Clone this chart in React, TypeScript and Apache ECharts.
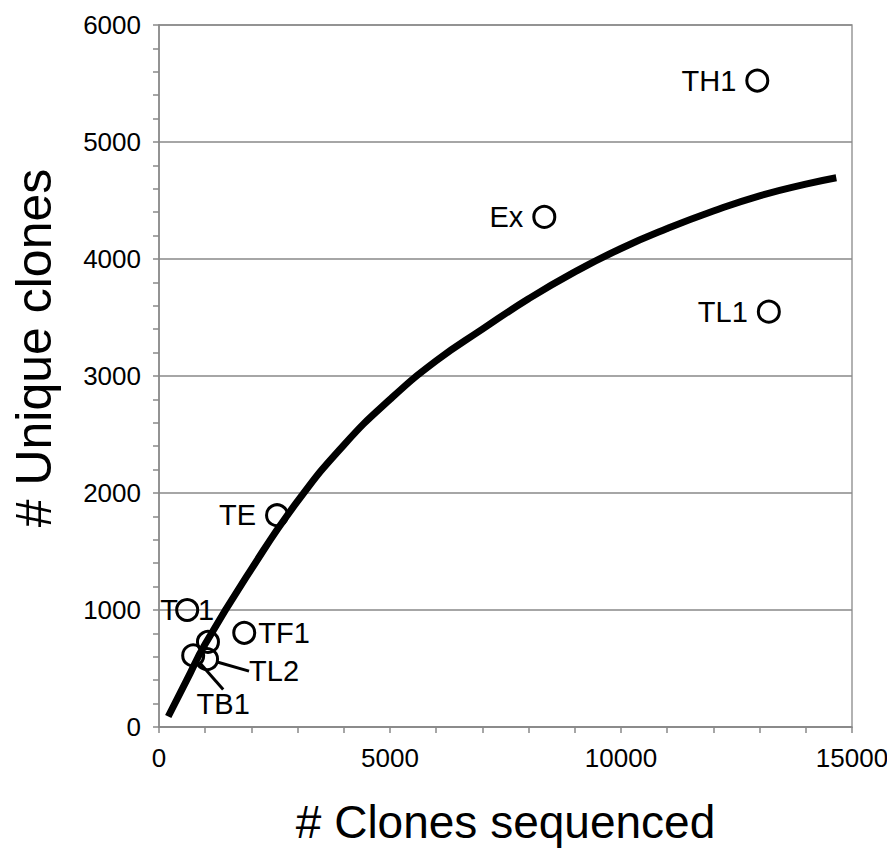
import React, { useEffect, useRef } from "react";
import * as echarts from "echarts";

const pointNames = ["TH1", "Ex", "TL1", "TE", "TF1", "TO1", "TL2", "TB1", ""];
const pointX = [12950, 8340, 13200, 2555, 1845, 610, 1040, 740, 1060];
const pointY = [5525, 4360, 3550, 1810, 805, 1000, 580, 612, 727];

const curveX = [200, 600, 1000, 2000, 3000, 4000, 5000, 6000, 7000, 8000, 9000, 10000, 11000, 12000, 13000, 14000, 14660];
const curveY = [90, 400, 710, 1350, 1930, 2410, 2800, 3130, 3400, 3660, 3890, 4090, 4260, 4410, 4540, 4640, 4695];

const xTicks = [0, 5000, 10000, 15000];
const yTicks = [0, 1000, 2000, 3000, 4000, 5000, 6000];

const FONT = "'Liberation Sans', Arial, sans-serif";

export default function App() {
  const ref = useRef<HTMLDivElement>(null);
  useEffect(() => {
    if (!ref.current) return;
    const chart = echarts.init(ref.current, undefined, { renderer: "svg" });
    const baseLabel = { show: true, fontSize: 29, fontFamily: FONT, color: "#000", formatter: "{b}" };
    const labelCfg: Record<string, any> = {
      TH1: { position: "left", distance: 9 },
      Ex: { position: "left", distance: 9 },
      TL1: { position: "left", distance: 9 },
      TE: { position: "left", distance: 9 },
      TF1: { position: "right", distance: 2 },
      TL2: { position: "right", distance: 4 },
      TB1: { position: "bottom", distance: 2 },
    };
    const shifts: Record<string, { dx: number; dy: number }> = {
      TL2: { dx: 26, dy: 12 },
      TB1: { dx: 30, dy: 20 },
    };
    const scatterData = pointNames.map((n, i) => {
      const item: any = { name: n, value: [pointX[i], pointY[i]] };
      if (n === "TO1") {
        item.label = {
          show: true,
          position: "inside",
          formatter: "{a|T}{b|}{a|1}",
          rich: {
            a: { fontSize: 29, fontFamily: FONT, color: "#000" },
            b: { width: 20 },
          },
        };
      } else if (n && labelCfg[n]) {
        item.label = { ...baseLabel, ...labelCfg[n] };
        if (shifts[n]) {
          item.labelLine = { show: true, lineStyle: { color: "#000", width: 3 } };
        }
      } else {
        item.label = { show: false };
      }
      return item;
    });

    chart.setOption({
      animation: false,
      backgroundColor: "#fff",
      grid: {
        left: 159,
        right: 35,
        top: 25,
        bottom: 134,
        outerBoundsMode: "none",
        containLabel: false,
        show: true,
        borderColor: "#999",
        borderWidth: 1.5,
      },
      xAxis: {
        type: "value",
        min: 0,
        max: 15000,
        interval: 5000,
        name: "# Clones sequenced",
        nameLocation: "middle",
        nameGap: 72,
        nameTextStyle: { fontSize: 46, fontFamily: FONT, color: "#000" },
        axisLine: { show: true, lineStyle: { color: "#888", width: 1.5 } },
        axisTick: { show: true, length: 6, lineStyle: { color: "#888", width: 1.5 } },
        minorTick: { show: true, splitNumber: 5, length: 6, lineStyle: { color: "#888", width: 1.5 } },
        splitLine: { show: false },
        axisLabel: {
          fontSize: 26,
          fontFamily: FONT,
          color: "#000",
          margin: 18,
          formatter: (v: number) => (xTicks.includes(v) ? String(v) : ""),
        },
      },
      yAxis: {
        type: "value",
        min: 0,
        max: 6000,
        interval: 1000,
        name: "# Unique clones",
        nameLocation: "middle",
        nameGap: 100,
        nameRotate: 90,
        nameTextStyle: { fontSize: 50, fontFamily: FONT, color: "#000", padding: [0, 0, 0, 56] },
        axisLine: { show: true, lineStyle: { color: "#888", width: 1.5 } },
        axisTick: { show: true, length: 6, lineStyle: { color: "#888", width: 1.5 } },
        minorTick: { show: true, splitNumber: 5, length: 6, lineStyle: { color: "#888", width: 1.5 } },
        splitLine: { show: true, lineStyle: { color: "#888", width: 1.5 } },
        axisLabel: {
          fontSize: 26,
          fontFamily: FONT,
          color: "#000",
          margin: 18,
          formatter: (v: number) => (yTicks.includes(v) ? String(v) : ""),
        },
      },
      series: [
        {
          type: "scatter",
          z: 2,
          symbol: "circle",
          symbolSize: 21,
          itemStyle: { color: "rgba(0,0,0,0)", borderColor: "#000", borderWidth: 3, opacity: 1 },
          label: baseLabel,
          labelLayout: (p: any) => {
            const s = shifts[pointNames[p.dataIndex]];
            return s ? { dx: s.dx, dy: s.dy } : {};
          },
          data: scatterData,
        },
        {
          type: "line",
          z: 3,
          smooth: true,
          symbol: "none",
          lineStyle: { color: "#000", width: 7 },
          data: curveX.map((x, i) => [x, curveY[i]]),
        },
      ],
    });
    return () => chart.dispose();
  }, []);
  return (
    <div
      ref={ref}
      style={{ position: "fixed", left: 0, top: 0, width: 887, height: 861, background: "#fff" }}
    />
  );
}
